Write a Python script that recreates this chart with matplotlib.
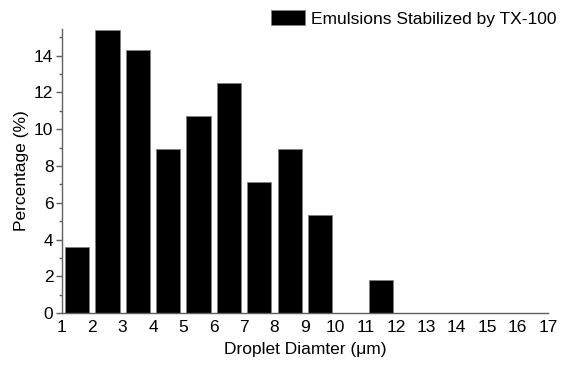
import numpy as np
import matplotlib.pyplot as plt
from matplotlib.ticker import MultipleLocator

plt.rcParams['font.family'] = ['Liberation Sans', 'DejaVu Sans']

# bin left edges (um) and percentage per bin
bin_left = [1, 2, 3, 4, 5, 6, 7, 8, 9, 10, 11]
percent = [3.57, 15.4, 14.29, 8.93, 10.71, 12.5, 7.14, 8.93, 5.36, 0.0, 1.79]
xticks = list(range(1, 18))

fs = 12.5

fig = plt.figure(figsize=(5.62, 3.67), dpi=100)
ax = fig.add_axes([0.110, 0.147, 0.865, 0.774])

centers = np.array(bin_left) + 0.5
ax.bar(centers, percent, width=0.8, color='k', edgecolor='#808080', lw=0.6,
       label='Emulsions Stabilized by TX-100')

ax.set_xlim(1, 17)
ax.set_ylim(0, 15.45)
ax.set_xticks(xticks)
ax.yaxis.set_major_locator(MultipleLocator(2))
ax.yaxis.set_minor_locator(MultipleLocator(1))

for s in ['top', 'right']:
    ax.spines[s].set_visible(False)
for s in ['left', 'bottom']:
    ax.spines[s].set_color('#606060')
    ax.spines[s].set_linewidth(1.0)

ax.tick_params(axis='y', which='major', length=4, width=1, color='#606060', labelsize=fs, pad=2)
ax.tick_params(axis='y', which='minor', length=2.5, width=1, color='#606060')
ax.tick_params(axis='x', which='major', length=0, labelsize=fs, pad=5)

ax.set_xlabel('Droplet Diamter (\u03bcm)', fontsize=fs, labelpad=5)
ax.set_ylabel('Percentage (%)', fontsize=fs, labelpad=4)

fig.legend(loc='upper right', bbox_to_anchor=(1.011, 1.005), frameon=False,
           fontsize=fs, handlelength=2.0, handleheight=0.95, handletextpad=0.3,
           borderaxespad=0.3)

fig.savefig('out.png', dpi=100)
